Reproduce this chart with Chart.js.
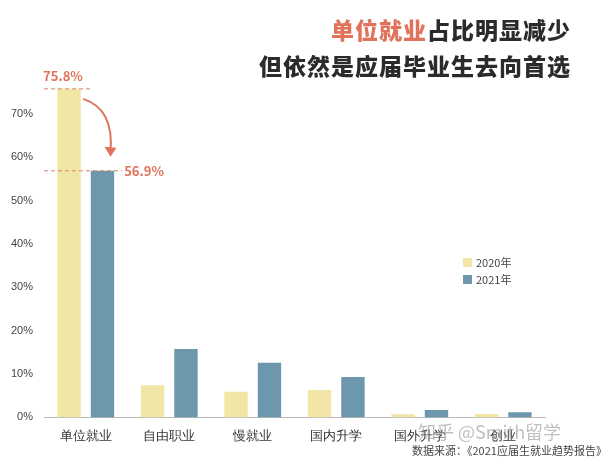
<!DOCTYPE html>
<html><head><meta charset="utf-8">
<script src="https://cdn.jsdelivr.net/npm/chart.js@4"></script>
<style>body{margin:0;background:#fff;width:603px;height:464px;overflow:hidden;font-family:"Noto Sans CJK SC",sans-serif}
#w{position:absolute;left:0;top:0;width:603px;height:464px}
.t{position:absolute;right:32px;font-weight:900;font-size:23px;color:#2b2b2b;letter-spacing:1px}
</style></head><body>
<div id="w"><canvas id="c" width="603" height="464"></canvas></div>
<div class="t" style="top:12px"><span style="color:#e0735a">单位就业</span>占比明显减少</div>
<div class="t" style="top:48px">但依然是应届毕业生去向首选</div>
<div style="position:absolute;left:412px;top:442px;font-size:11px;color:#444">数据来源：《2021应届生就业趋势报告》</div>
<div style="position:absolute;left:418px;top:418px;font-size:18px;color:rgba(150,150,150,0.6)">知乎 @Smith留学</div>
<script>
const categories=["单位就业","自由职业","慢就业","国内升学","国外升学","创业"];
const v2020=[75.8,7.4,5.9,6.3,0.7,0.8];
const v2021=[56.9,15.8,12.6,9.3,1.7,1.2];
const ticks=[0,10,20,30,40,50,60,70];
const ann={id:'ann',afterDatasetsDraw(ch){
 const c=ch.ctx,x=ch.scales.x,y=ch.scales.y;
 const m0=ch.getDatasetMeta(0).data[0],m1=ch.getDatasetMeta(1).data[0];
 const ya=y.getPixelForValue(v2020[0]),yb=y.getPixelForValue(v2021[0]);
 c.save();c.strokeStyle='#d9826e';c.setLineDash([4,3]);c.lineWidth=1;
 c.beginPath();c.moveTo(x.left,ya);c.lineTo(m0.x+m0.width/2+10,ya);c.stroke();
 c.beginPath();c.moveTo(x.left,yb);c.lineTo(m1.x+m1.width/2+8,yb);c.stroke();
 c.setLineDash([]);c.fillStyle='#e0735a';c.font='bold 13px "Noto Sans CJK SC"';
 c.textBaseline='middle';c.fillText(v2020[0]+'%',m0.x-26,ya-13);
 c.fillText(v2021[0]+'%',m1.x+m1.width/2+10,yb);
 c.strokeStyle='#e0735a';c.lineWidth=2;c.beginPath();
 c.moveTo(m0.x+14,ya+10);c.quadraticCurveTo(m1.x+12,ya+20,m1.x+8,yb-18);c.stroke();
 c.beginPath();c.moveTo(m1.x+2,yb-24);c.lineTo(m1.x+8,yb-14);c.lineTo(m1.x+14,yb-23);c.fill();
 // legend
 c.font='11px "Noto Sans CJK SC"';c.fillStyle='#444';
 ch.data.datasets.forEach((d,i)=>{const ly=262+i*17;c.fillStyle=d.backgroundColor;c.fillRect(463,ly-4,9,9);
  c.fillStyle='#444';c.fillText(d.label,476,ly+1);});
 c.restore();}};
new Chart(document.getElementById('c'),{type:'bar',
 data:{labels:categories,datasets:[
  {label:'2020年',data:v2020,backgroundColor:'#f1e6a6',barPercentage:0.7,categoryPercentage:0.8},
  {label:'2021年',data:v2021,backgroundColor:'#6d97ad',barPercentage:0.7,categoryPercentage:0.8}]},
 options:{responsive:false,animation:false,
  layout:{padding:{left:8,right:58,top:88,bottom:17}},
  plugins:{legend:{display:false},tooltip:{enabled:false}},
  scales:{x:{grid:{display:false},border:{color:'#bbb'},ticks:{color:'#333',font:{size:13}}},
   y:{min:0,max:76,afterBuildTicks(a){a.ticks=ticks.map(v=>({value:v}))},grid:{display:false},border:{display:false},
    ticks:{color:'#444',font:{size:11},callback:v=>v+'%'}}}},
 plugins:[ann]});
</script></body></html>
